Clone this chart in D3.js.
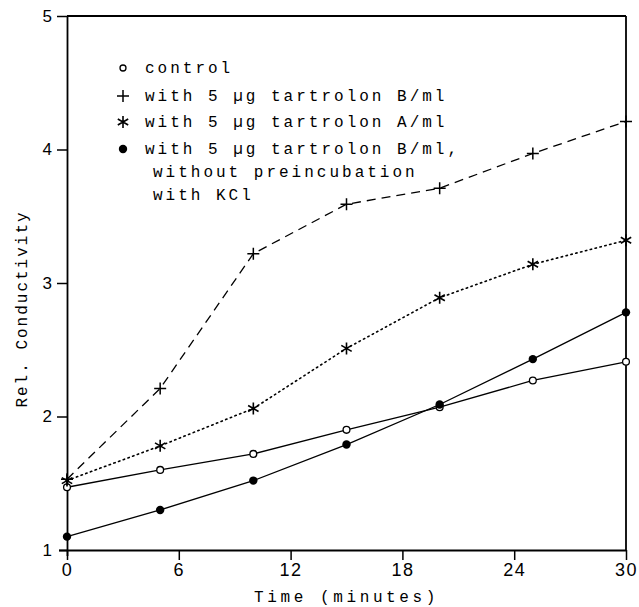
<!DOCTYPE html>
<html>
<head>
<meta charset="utf-8">
<script src="https://cdn.jsdelivr.net/npm/d3@7"></script>
<style>
html,body{margin:0;padding:0;background:#fff;}
svg{display:block;}
</style>
</head>
<body>
<svg id="chart" width="639" height="607"></svg>
<script>
const times = [0, 5, 10, 15, 20, 25, 30];
const control = [1.47, 1.60, 1.72, 1.90, 2.07, 2.27, 2.41];
const tartrolonB = [1.53, 2.21, 3.22, 3.59, 3.71, 3.97, 4.21];
const tartrolonA = [1.52, 1.78, 2.06, 2.51, 2.89, 3.14, 3.32];
const tartrolonBnoKCl = [1.10, 1.30, 1.52, 1.79, 2.09, 2.43, 2.78];
const xTicks = [0, 6, 12, 18, 24, 30];
const yTicks = [1, 2, 3, 4, 5];
const legendLabels = [
  ["control"],
  ["with 5 µg tartrolon B/ml"],
  ["with 5 µg tartrolon A/ml"],
  ["with 5 µg tartrolon B/ml,", "without preincubation", "with KCl"]
];
const xTitle = "Time (minutes)";
const yTitle = "Rel. Conductivity";

const svg = d3.select("#chart");
const x = d3.scaleLinear().domain([0, 30]).range([67, 626]);
const y = d3.scaleLinear().domain([1, 5]).range([550, 16]);
const mono = "'Liberation Mono', 'DejaVu Sans Mono', monospace";
const sans = "'Liberation Sans', Arial, sans-serif";

// axes
const xAxis = d3.axisBottom(x).tickValues(xTicks).tickSize(10).tickSizeOuter(0).tickFormat(d3.format("d"));
const gx = svg.append("g").attr("transform", `translate(0,${y(1)})`).call(xAxis);
gx.attr("font-size", 18).attr("font-family", sans);
gx.select(".domain").attr("stroke-width", 1.8).attr("d", `M${x(0)-8},0.5H${x(30)}`);
gx.selectAll(".tick line").attr("stroke-width", 1.5);
gx.selectAll(".tick text").attr("letter-spacing", 1.5).attr("y", 13).attr("dy", "0.71em");

const yAxis = d3.axisLeft(y).tickValues(yTicks).tickSize(10).tickSizeOuter(0).tickFormat(d3.format("d"));
const gy = svg.append("g").attr("transform", `translate(${x(0)},0)`).call(yAxis);
gy.attr("font-size", 17).attr("font-family", sans);
gy.select(".domain").attr("stroke-width", 1.8).attr("d", `M0.5,${y(5)}V${y(1)+6}`);
gy.selectAll(".tick line").attr("stroke-width", 1.5);
gy.selectAll(".tick text").attr("x", -15);
gy.selectAll(".tick").filter(d => d === 1).select("line").attr("x2", -8);

// frame top & right
svg.append("line").attr("x1", x(0)).attr("x2", x(30)).attr("y1", y(5)).attr("y2", y(5))
  .attr("stroke", "#000").attr("stroke-width", 1.8);
svg.append("line").attr("x1", x(30)).attr("x2", x(30)).attr("y1", y(5)).attr("y2", y(1))
  .attr("stroke", "#000").attr("stroke-width", 1.8);

// titles
svg.append("text").attr("x", (x(0) + x(30)) / 2).attr("y", 602).attr("text-anchor", "middle")
  .attr("font-family", mono).attr("font-size", 16).attr("letter-spacing", 3.6).text(xTitle);
svg.append("text").attr("transform", `translate(27,${309}) rotate(-90)`).attr("text-anchor", "middle")
  .attr("font-family", mono).attr("font-size", 16).attr("letter-spacing", 2).text(yTitle);

// series
const series = [
  {vals: control, dash: null, marker: "open"},
  {vals: tartrolonB, dash: "9,6", marker: "plus"},
  {vals: tartrolonA, dash: "1.4,3.6", marker: "star"},
  {vals: tartrolonBnoKCl, dash: null, marker: "filled"}
];
const line = d3.line().x(d => x(d[0])).y(d => y(d[1]));

function drawMarker(g, type, cx, cy) {
  if (type === "open") {
    g.append("circle").attr("cx", cx).attr("cy", cy).attr("r", 3.4)
      .attr("fill", "#fff").attr("stroke", "#000").attr("stroke-width", 1.3);
  } else if (type === "filled") {
    g.append("circle").attr("cx", cx).attr("cy", cy).attr("r", 4.2).attr("fill", "#000");
  } else if (type === "plus") {
    g.append("path").attr("d", `M${cx-6},${cy}H${cx+6}M${cx},${cy-6}V${cy+6}`)
      .attr("stroke", "#000").attr("stroke-width", 1.5).attr("fill", "none");
  } else if (type === "star") {
    const r = 6;
    let d = "";
    [90, 30, 150].forEach(a => {
      const rad = a * Math.PI / 180;
      const dx = r * Math.cos(rad), dy = r * Math.sin(rad);
      d += `M${cx-dx},${cy-dy}L${cx+dx},${cy+dy}`;
    });
    g.append("path").attr("d", d).attr("stroke", "#000").attr("stroke-width", 1.6).attr("fill", "none");
  }
}

series.forEach(s => {
  const pts = times.map((t, i) => [t, s.vals[i]]);
  const p = svg.append("path").datum(pts).attr("d", line)
    .attr("fill", "none").attr("stroke", "#000").attr("stroke-width", 1.3);
  if (s.dash) p.attr("stroke-dasharray", s.dash);
  if (s.marker === "star") p.attr("stroke-width", 1.6).attr("stroke-linecap", "round");
});
series.forEach(s => {
  const g = svg.append("g");
  times.forEach((t, i) => drawMarker(g, s.marker, x(t), y(s.vals[i])));
});

// legend
const legendY = [68, 96, 122, 149];
const legendMarkers = ["open", "plus", "star", "filled"];
const lg = svg.append("g");
legendLabels.forEach((lines, i) => {
  const cy = legendY[i];
  const mg = lg.append("g");
  if (legendMarkers[i] === "open") {
    mg.append("circle").attr("cx", 123).attr("cy", cy).attr("r", 3)
      .attr("fill", "#fff").attr("stroke", "#000").attr("stroke-width", 1.3);
  } else {
    drawMarker(mg, legendMarkers[i], 123, cy);
  }
  lines.forEach((txt, j) => {
    lg.append("text").attr("x", j === 0 ? 145 : 153).attr("y", cy + 5 + j * 23)
      .attr("font-family", mono).attr("font-size", 16).attr("letter-spacing", 3)
      .attr("xml:space", "preserve").text(txt);
  });
});
</script>
</body>
</html>
